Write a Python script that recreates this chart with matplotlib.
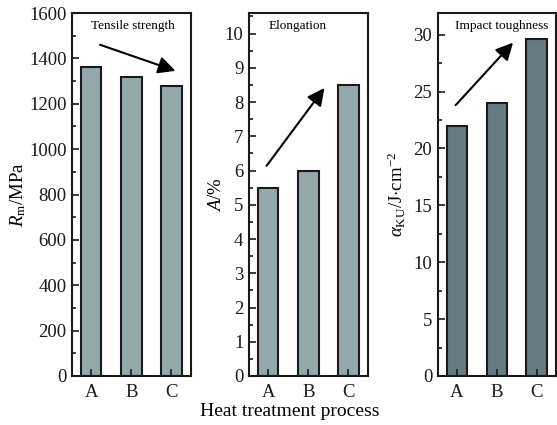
import matplotlib
matplotlib.use('Agg')
import matplotlib.pyplot as plt
from matplotlib.ticker import MultipleLocator

plt.rcParams['font.family'] = ['Liberation Serif', 'DejaVu Serif']
plt.rcParams['mathtext.fontset'] = 'custom'
plt.rcParams['mathtext.rm'] = 'Liberation Serif'
plt.rcParams['mathtext.it'] = 'Liberation Serif:italic'

processes = ['A', 'B', 'C']
tensile = [1360, 1320, 1280]
elongation = [5.5, 6.0, 8.5]
impact = [22.0, 24.0, 29.6]

panels = [
    dict(vals=tensile, ylim=(0, 1600), major=200, minor=100,
         label=r'$R_{\rm m}$/MPa', title='Tensile strength', tx=0.51,
         arrow=((0.22, 1460), (2.1, 1345)), color='#94a8ab', lx=-0.37,
         rect=[72/557, 49/425, 118.7/557, 363/425]),
    dict(vals=elongation, ylim=(0, 10.6), major=1, minor=0.5,
         label=r'$A$/%', title='Elongation', tx=0.41,
         arrow=((-0.04, 6.14), (1.4, 8.41)), color='#94a8ab', lx=-0.2,
         rect=[249/557, 49/425, 118.7/557, 363/425]),
    dict(vals=impact, ylim=(0, 31.9), major=5, minor=2.5,
         label=r'$\alpha_{\rm KU}$/J$\cdot$cm$^{-2}$', title='Impact toughness', tx=0.54,
         arrow=((-0.03, 23.8), (1.41, 29.3)), color='#667b80', lx=-0.25,
         rect=[437.7/557, 49/425, 118/557, 363/425]),
]

fig = plt.figure(figsize=(5.57, 4.25), dpi=100)
for p in panels:
    ax = fig.add_axes(p['rect'])
    x = range(len(processes))
    ax.bar(x, p['vals'], width=0.51, color=p['color'], edgecolor='#1a1a1a',
           linewidth=1.5, zorder=1)
    ax.set_xlim(-0.48, 2.48)
    ax.set_ylim(*p['ylim'])
    ax.set_xticks(list(x))
    ax.set_xticklabels(processes)
    ax.yaxis.set_major_locator(MultipleLocator(p['major']))
    ax.yaxis.set_minor_locator(MultipleLocator(p['minor']))
    ax.tick_params(axis='both', which='both', direction='in', colors='#1a1a1a',
                   labelsize=13.5, width=1.2, top=False, right=False)
    ax.tick_params(axis='y', which='major', length=5, pad=4)
    ax.tick_params(axis='y', which='minor', length=3)
    ax.tick_params(axis='x', which='major', length=5, pad=6)
    ax.tick_params(axis='x', which='minor', bottom=False)
    for s in ax.spines.values():
        s.set_linewidth(1.5)
        s.set_color('#1a1a1a')
        s.set_zorder(5)
    ax.set_axisbelow(False)
    ax.set_ylabel(p['label'], fontsize=13.5)
    ax.yaxis.set_label_coords(p['lx'], 0.5)
    ax.text(p['tx'], 0.965, p['title'], transform=ax.transAxes,
            ha='center', va='center', fontsize=9.5)
    (x0, y0), (x1, y1) = p['arrow']
    ax.annotate('', xy=(x1, y1), xytext=(x0, y0),
                arrowprops=dict(arrowstyle='-|>', mutation_scale=26,
                                lw=1.5, color='black', shrinkA=0, shrinkB=0))

fig.text(290/557, 1 - 411/425, 'Heat treatment process', ha='center',
         va='center', fontsize=14)

fig.savefig('out.png', dpi=100)
